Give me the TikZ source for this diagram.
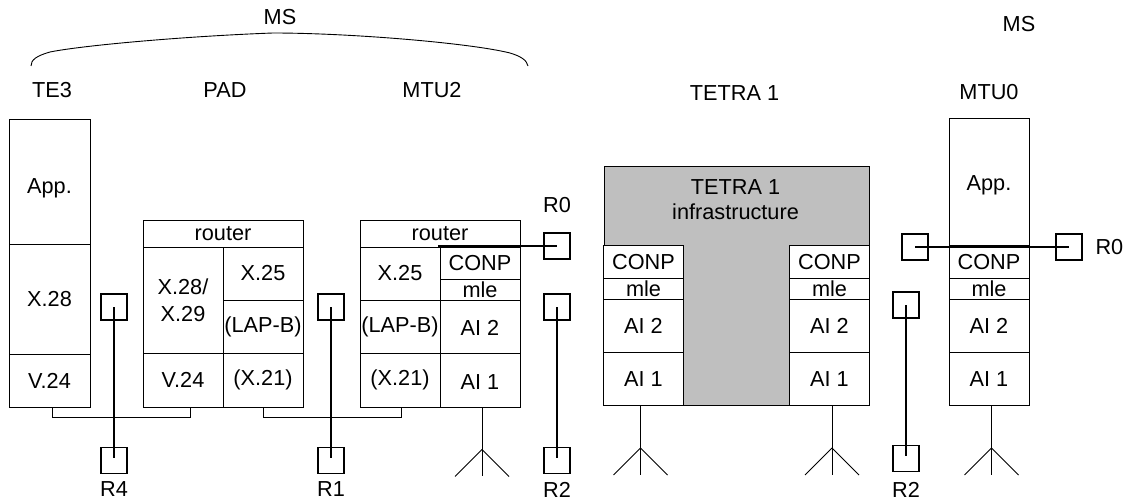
\documentclass[tikz,border=0pt]{standalone}
\usepackage{fontspec}
\setmainfont{Liberation Sans}
\usetikzlibrary{positioning}

\begin{document}
\begin{tikzpicture}[
    x=1pt, y=-1pt,
    font=\fontsize{21.7}{27}\selectfont,
    cell/.style={rectangle, draw, line width=0.9pt, inner sep=0pt, outer sep=0pt, minimum width=80pt},
    wide/.style={cell, minimum width=160pt},
    tag/.style={inner sep=0pt, outer sep=0pt},
    relay/.style={rectangle, draw, line width=1.8pt, inner sep=0pt, outer sep=0pt, minimum size=26pt},
    line/.style={draw, line width=1.8pt},
    thin/.style={draw, line width=0.9pt}
]
\useasboundingbox (0,0) rectangle (1131,500);

% grey core of the network
\draw [line width=0.9pt, fill=black!25] (604,166) -- (869,166) -- (869,405.5) -- (604,405.5) -- cycle;

% TE3
\node [cell, minimum width=81pt, minimum height=125.5pt, anchor=north west, text height=29pt] (teapp) at (9,119) {App.};
\node [cell, minimum width=81pt, minimum height=110pt, below=0pt of teapp] (tex) {X.28};
\node [cell, minimum width=81pt, minimum height=52.5pt, below=0pt of tex] (tev) {V.24};

% PAD
\node [wide, minimum height=27pt, anchor=north west] (padrouter) at (143,220) {router};
\node [cell, minimum height=106.5pt, anchor=north west, align=center] (padx) at (padrouter.south west) {X.28/\\X.29};
\node [cell, minimum height=53.5pt, below=0pt of padx] (padv) {V.24};
\node [cell, minimum height=53pt, anchor=north east] (padxx) at (padrouter.south east) {X.25};
\node [cell, minimum height=53.5pt, below=0pt of padxx] (padlap) {(LAP-B)};
\node [cell, minimum height=53.5pt, below=0pt of padlap] (padxxi) {(X.21)};

% MTU2
\node [wide, minimum height=27pt, anchor=north west] (mturouter) at (360,220) {router};
\node [cell, minimum height=53pt, anchor=north west] (mtux) at (mturouter.south west) {X.25};
\node [cell, minimum height=53.5pt, below=0pt of mtux] (mtulap) {(LAP-B)};
\node [cell, minimum height=53.5pt, below=0pt of mtulap] (mtuxxi) {(X.21)};
\node [cell, minimum height=32.5pt, anchor=north east] (mtuconp) at (mturouter.south east) {CONP};
\node [cell, minimum height=20.5pt, below=0pt of mtuconp] (mtumle) {mle};
\node [cell, minimum height=53.5pt, below=0pt of mtumle, text height=18pt] (mtuai) {AI 2};
\node [cell, minimum height=53.5pt, below=0pt of mtuai, text height=19pt] (mtuaii) {AI 1};

% TETRA 1
\node [cell, minimum height=33pt, anchor=north west, fill=white] (lconp) at (603.5,245.5) {CONP};
\node [cell, minimum height=20.5pt, below=0pt of lconp, fill=white] (lmle) {mle};
\node [cell, minimum height=53.5pt, below=0pt of lmle, fill=white] (lai) {AI 2};
\node [cell, minimum height=53pt, below=0pt of lai, fill=white] (laii) {AI 1};
\node [cell, minimum height=33pt, anchor=north west, fill=white] (rconp) at (789.5,245.5) {CONP};
\node [cell, minimum height=20.5pt, below=0pt of rconp, fill=white] (rmle) {mle};
\node [cell, minimum height=53.5pt, below=0pt of rmle, fill=white] (rai) {AI 2};
\node [cell, minimum height=53pt, below=0pt of rai, fill=white] (raii) {AI 1};
\node [tag, align=center] (infra) at (735.5,199.5) {TETRA 1\\[-2pt]infrastructure};

% MTU0
\node [cell, minimum height=127pt, anchor=north west, text height=22pt] (zapp) at (949,118.5) {App.};
\node [cell, minimum height=33pt, below=0pt of zapp] (zconp) {CONP};
\node [cell, minimum height=20.5pt, below=0pt of zconp] (zmle) {mle};
\node [cell, minimum height=53.5pt, below=0pt of zmle] (zai) {AI 2};
\node [cell, minimum height=53pt, below=0pt of zai] (zaii) {AI 1};

% names on top
\node [tag] (msa) at (280,17) {MS};
\node [tag] (mtea) at (52,90) {TE3};
\node [tag] (mpad) at (225,90) {PAD};
\node [tag] (mmtu) at (432,90) {MTU2};
\node [tag] (mtetra) at (734.5,93) {TETRA 1};
\node [tag] (mzero) at (989,92) {MTU0};
\node [tag] (msb) at (1019,24) {MS};

% relays
\node [relay] (rfa) at (114,307) {};
\node [relay, below=127.5pt of rfa] (rfb) {};
\node [tag, below=8.5pt of rfb] (rflab) {R4};
\node [relay] (roa) at (331,307) {};
\node [relay, below=127.5pt of roa] (rob) {};
\node [tag, below=8.5pt of rob] (rolab) {R1};
\node [relay] (rta) at (557,307) {};
\node [relay, below=127.5pt of rta] (rtb) {};
\node [tag, below=8.5pt of rtb] (rtlab) {R2};
\node [relay] (rua) at (906,305) {};
\node [relay, below=127.5pt of rua] (rub) {};
\node [tag, below=10.5pt of rub] (rulab) {R2};
\node [relay] (rza) at (557,246) {};
\node [tag, above=20.5pt of rza] (rzlab) {R0};
\node [relay] (rya) at (915,247) {};
\node [relay] (ryb) at (1069,247) {};
\node [tag, right=13.5pt of ryb] (rylab) {R0};

\path [line, shorten >=2.5pt] (rfa.center) -- (rfb.center);
\path [line, shorten >=2.5pt] (roa.center) -- (rob.center);
\path [line, shorten >=2.5pt] (rta.center) -- (rtb.center);
\path [line, shorten >=2.5pt] (rua.center) -- (rub.center);
\path [line, shorten <=-2pt] (rza.center -| mtuconp.north west) -- (rza.center);
\path [line] (rya.center) -- (ryb.center);

% cables
\path [thin] ([xshift=43pt]tev.south west) -- ++(0,10.5) -| ([xshift=47pt]padv.south west);
\path [thin] ([xshift=40pt]padxxi.south west) -- ++(0,10.5) -| ([xshift=41pt]mtuxxi.south west);

% antennas
\foreach \mast/\off in {mtuaii/2, laii/-3, raii/2.5, zaii/2.5} {
    \path [thin] ([xshift=\off pt]\mast.south) -- ++(0,69);
    \path [thin] ([xshift=\off pt,yshift=-42.5pt]\mast.south) -- ++(-27,27);
    \path [thin] ([xshift=\off pt,yshift=-42.5pt]\mast.south) -- ++(27,27);
}

% brace over the first three columns
\draw [line width=0.9pt] (31,66) .. controls (31,60) and (36,56) .. (50,52) .. controls (85,45) and (190,36) .. (273,33) .. controls (350,33) and (470,43) .. (510,53) .. controls (520,56) and (527,60) .. (528,66);

\end{tikzpicture}
\end{document}
